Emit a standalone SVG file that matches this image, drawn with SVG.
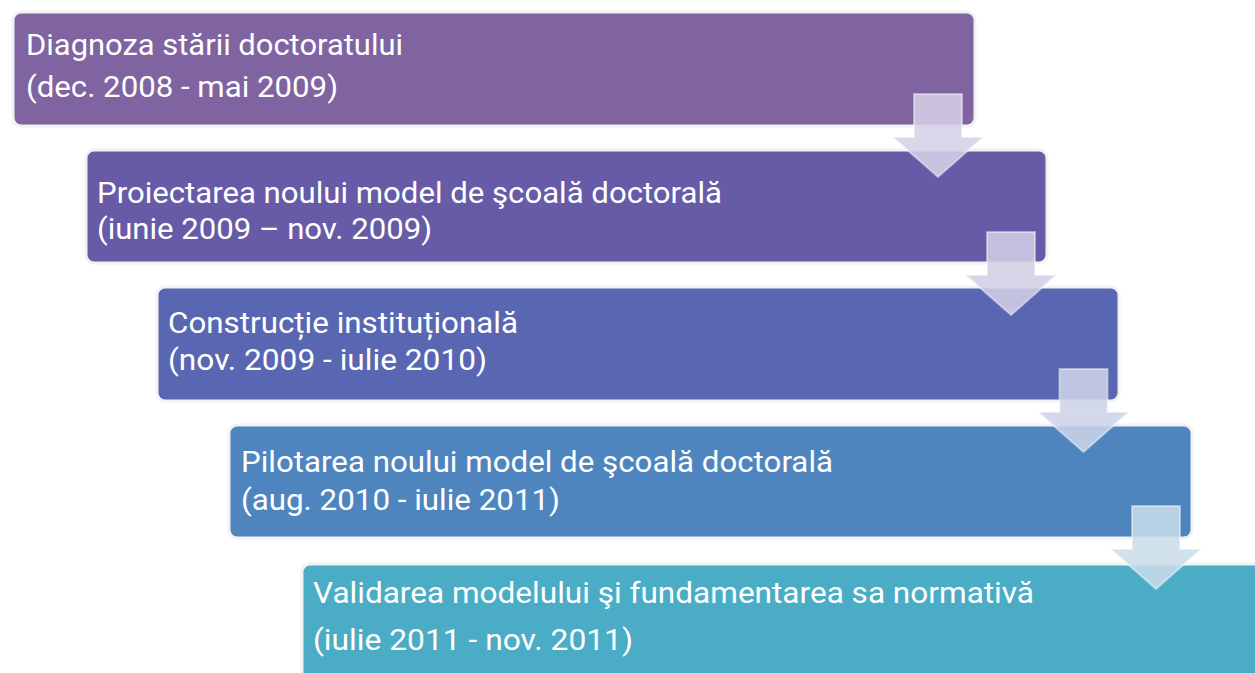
<svg xmlns="http://www.w3.org/2000/svg" width="1255" height="673" viewBox="0 0 1255 673">
<style>
.box{stroke:#f2f2f2;stroke-width:3}
.t{font-family:Roboto,"Liberation Sans",sans-serif;font-size:30px;fill:#ffffff}
.arr{stroke:#ffffff;stroke-opacity:0.45;stroke-width:2;fill-opacity:0.87}
</style>
<rect width="1255" height="673" fill="#ffffff"/>
<g id="node1">
<rect class="box" x="13" y="12" width="962" height="114" rx="8" fill="#8064A2"/>
<text class="t" x="26" y="55" textLength="377" lengthAdjust="spacingAndGlyphs">Diagnoza stării doctoratului</text>
<text class="t" x="26" y="97" textLength="312" lengthAdjust="spacingAndGlyphs">(dec. 2008 - mai 2009)</text>
</g>
<g id="node2">
<rect class="box" x="86" y="150" width="961" height="113" rx="8" fill="#675BA7"/>
<text class="t" x="97" y="203" textLength="625" lengthAdjust="spacingAndGlyphs">Proiectarea noului model de şcoală doctorală</text>
<text class="t" x="97" y="239" textLength="335" lengthAdjust="spacingAndGlyphs">(iunie 2009 – nov. 2009)</text>
</g>
<g id="node3">
<rect class="box" x="157" y="287" width="962" height="114" rx="8" fill="#5967B3"/>
<text class="t" x="168" y="333" textLength="350" lengthAdjust="spacingAndGlyphs">Construcție instituțională</text>
<text class="t" x="168" y="370" textLength="319" lengthAdjust="spacingAndGlyphs">(nov. 2009 - iulie 2010)</text>
</g>
<g id="node4">
<rect class="box" x="229" y="425" width="963" height="113" rx="8" fill="#4F85BF"/>
<text class="t" x="241" y="472" textLength="592" lengthAdjust="spacingAndGlyphs">Pilotarea noului model de şcoală doctorală</text>
<text class="t" x="241" y="510" textLength="319" lengthAdjust="spacingAndGlyphs">(aug. 2010 - iulie 2011)</text>
</g>
<g id="node5">
<rect class="box" x="302" y="564" width="990" height="130" rx="8" fill="#4BACC6"/>
<text class="t" x="313" y="603" textLength="721" lengthAdjust="spacingAndGlyphs">Validarea modelului şi fundamentarea sa normativă</text>
<text class="t" x="313" y="650" textLength="320" lengthAdjust="spacingAndGlyphs">(iulie 2011 - nov. 2011)</text>
</g>
<g id="connectors">
<path class="arr" fill="#D6D1E7" d="M914,94 H962 V137 H983.5 L938,177 L892.5,137 H914 Z"/>
<path class="arr" fill="#D2CFE6" d="M987,232 H1035 V275 H1056.5 L1011,315 L965.5,275 H987 Z"/>
<path class="arr" fill="#CDD3E8" d="M1059.5,369 H1107.5 V412 H1129 L1083.5,452 L1038,412 H1059.5 Z"/>
<path class="arr" fill="#C9DDE9" d="M1132,506 H1180 V549 H1201.5 L1156,589 L1110.5,549 H1132 Z"/>
</g>
</svg>
